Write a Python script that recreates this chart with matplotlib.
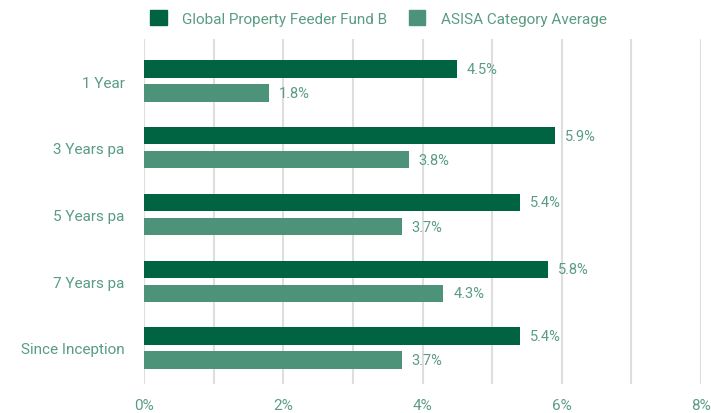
import matplotlib
matplotlib.use("Agg")
import matplotlib.pyplot as plt
import numpy as np
from matplotlib.patches import Patch

# ── Data ──────────────────────────────────────────────────────────────────────
categories = ["1 Year", "3 Years pa", "5 Years pa", "7 Years pa", "Since Inception"]
fund_vals = [4.5, 5.9, 5.4, 5.8, 5.4]
avg_vals = [1.8, 3.8, 3.7, 4.3, 3.7]
series_names = ["Global Property Feeder Fund B", "ASISA Category Average"]
xticks = [0, 2, 4, 6, 8]

DARK = "#006341"
LIGHT = "#4d937a"
TEXT = "#5a9c82"
GRID = "#dedede"

plt.rcParams["font.family"] = ["Roboto", "DejaVu Sans"]

fig = plt.figure(figsize=(7.11, 4.14), dpi=100)
ax = fig.add_axes([144 / 711, 1 - 385 / 414, (701 - 144) / 711, (385 - 40) / 414])

y = np.arange(len(categories))
h = 0.26
off = 0.18
ax.barh(y - off, fund_vals, height=h, color=DARK, zorder=3)
ax.barh(y + off, avg_vals, height=h, color=LIGHT, zorder=3)

for yi, v in zip(y, fund_vals):
    ax.text(v + 0.14, yi - off, f"{v:.1f}%", va="center", ha="left",
            color=TEXT, fontsize=10.5)
for yi, v in zip(y, avg_vals):
    ax.text(v + 0.14, yi + off, f"{v:.1f}%", va="center", ha="left",
            color=TEXT, fontsize=10.5)

ax.set_xlim(0, 8)
ax.set_ylim(4.54, -0.63)
ax.set_xticks(np.arange(0, 9, 1))
ax.set_xticklabels([f"{int(t)}%" if t in xticks else "" for t in np.arange(0, 9, 1)],
                   color=TEXT, fontsize=11)
ax.set_yticks(y)
ax.set_yticklabels(categories, color=TEXT, fontsize=11)
ax.tick_params(axis="both", length=0)
ax.tick_params(axis="x", pad=10)
ax.tick_params(axis="y", pad=14)
ax.grid(axis="x", color=GRID, lw=1.5, zorder=0)
for s in ax.spines.values():
    s.set_visible(False)

handles = [Patch(color=DARK, label=series_names[0]),
           Patch(color=LIGHT, label=series_names[1])]
leg = fig.legend(handles=handles, loc="center", bbox_to_anchor=(0.532, 1 - 19 / 414),
                 ncol=2, frameon=False, fontsize=11, handlelength=1.1, handleheight=1.1,
                 columnspacing=1.4, handletextpad=1.0)
for t in leg.get_texts():
    t.set_color(TEXT)

fig.savefig("out.png", dpi=100)
